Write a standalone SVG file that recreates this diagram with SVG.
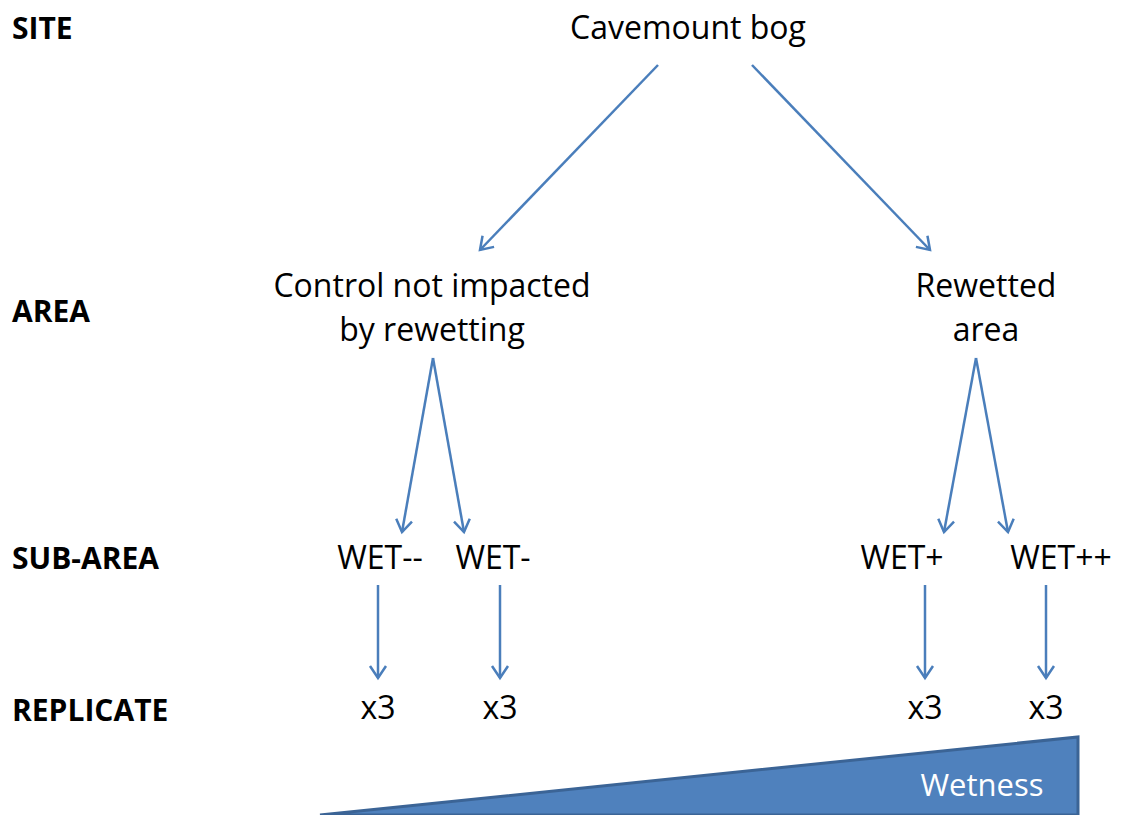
<svg xmlns="http://www.w3.org/2000/svg" width="1130" height="815" viewBox="0 0 1130 815">
<defs>
<style>
.t{font-family:"Open Sans","Liberation Sans",Arial,sans-serif;font-size:32px;fill:#000;text-anchor:middle}
.h{font-family:"Open Sans","Liberation Sans",Arial,sans-serif;font-size:30px;font-weight:bold;fill:#000}
.c line{stroke:#4a7ebb;stroke-width:2.5;fill:none;marker-end:url(#ah)}
</style>
<marker id="ah" viewBox="0 0 20 20" refX="14" refY="10" markerWidth="20" markerHeight="20" markerUnits="userSpaceOnUse" orient="auto">
<path d="M2,2 L14,10 L2,18" fill="none" stroke="#4a7ebb" stroke-width="2.5"/>
</marker>
</defs>
<rect width="1130" height="815" fill="#fff"/>
<g id="labels">
<text class="h" x="12" y="39">SITE</text>
<text class="h" x="12" y="322">AREA</text>
<text class="h" x="12" y="569">SUB-AREA</text>
<text class="h" x="12" y="721">REPLICATE</text>
</g>
<g id="site"><text class="t" x="688" y="39">Cavemount bog</text></g>
<g id="control"><text class="t" x="432" y="297">Control not impacted</text><text class="t" x="432" y="341">by rewetting</text></g>
<g id="rewetted"><text class="t" x="986" y="297">Rewetted</text><text class="t" x="986" y="341">area</text></g>
<g id="wetmm"><text class="t" x="380" y="569">WET--</text></g>
<g id="wetm"><text class="t" x="493" y="569">WET-</text></g>
<g id="wetp"><text class="t" x="902" y="569">WET+</text></g>
<g id="wetpp"><text class="t" x="1061" y="569">WET++</text></g>
<g id="r1"><text class="t" x="378" y="719">x3</text></g>
<g id="r2"><text class="t" x="500" y="719">x3</text></g>
<g id="r3"><text class="t" x="925" y="719">x3</text></g>
<g id="r4"><text class="t" x="1046" y="719">x3</text></g>
<g id="wedge">
<polygon points="320,815 1078,737 1078,815" fill="#4f81bd" stroke="#3b6496" stroke-width="3"/>
<text x="982" y="796" style="font-family:'Open Sans','Liberation Sans',Arial,sans-serif;font-size:31px;fill:#fff;text-anchor:middle">Wetness</text>
</g>
<g id="connectors" class="c">
<line x1="658" y1="65" x2="480" y2="250"/>
<line x1="752" y1="65" x2="930" y2="250"/>
<line x1="433" y1="358" x2="402" y2="532"/>
<line x1="433" y1="358" x2="464" y2="532"/>
<line x1="976" y1="358" x2="944" y2="532"/>
<line x1="976" y1="358" x2="1008" y2="532"/>
<line x1="378" y1="585" x2="378" y2="678"/>
<line x1="500" y1="585" x2="500" y2="678"/>
<line x1="925" y1="585" x2="925" y2="678"/>
<line x1="1046" y1="585" x2="1046" y2="678"/>
</g>
</svg>
